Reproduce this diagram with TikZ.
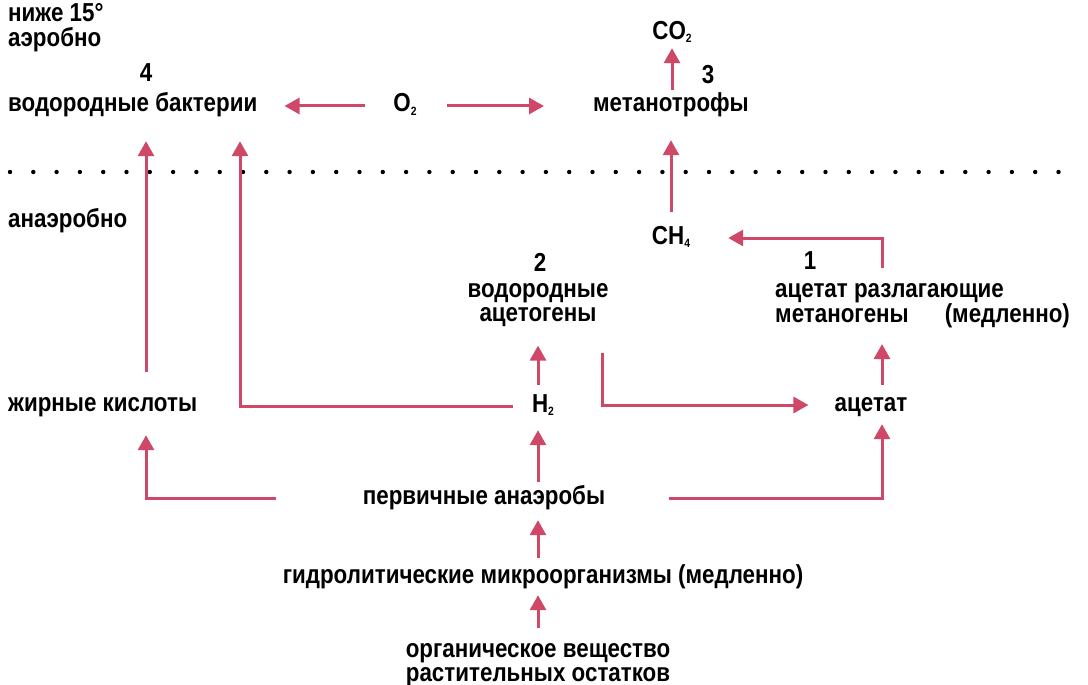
\documentclass[tikz,border=0pt]{standalone}
\usepackage{fontspec}
\setmainfont{Liberation Sans}[FakeStretch=0.86]
\usetikzlibrary{arrows.meta,calc}
\definecolor{arrcol}{RGB}{208,72,104}
\newcommand\lowidx[1]{\raisebox{-3pt}{\fontsize{12}{12}\selectfont #1}}
\begin{document}
\begin{tikzpicture}[x=1pt,y=-1pt,
  lbl/.style={inner sep=0pt, font=\fontsize{26}{24}\selectfont\bfseries, text height=17pt, text depth=5pt},
  lblm/.style={inner sep=0pt, font=\fontsize{26}{24}\selectfont\bfseries},
  arr/.style={draw=arrcol, line width=3pt, -{Triangle[length=15pt,width=16pt]}}]
\useasboundingbox (0,0) rectangle (1088,685);
% aerobic zone
\node[lbl, anchor=base west] (nizhe) at (8,22) {ниже 15°};
\node[lbl, anchor=base west] (aer) at (8,47) {аэробно};
\node[lbl, anchor=base] (n4) at (146,82) {4};
\node[lbl, anchor=base west] (wb) at (8,112) {водородные бактерии};
\node[lbl, anchor=base] (o2) at (405,112) {O\lowidx{2}};
\node[lbl, anchor=base] (mt) at (671,112) {метанотрофы};
\node[lbl, anchor=base] (co2) at (672,40) {CO\lowidx{2}};
\node[lbl, anchor=base] (n3) at (708,84) {3};
% border line
\draw[line width=4.4pt, dash pattern=on 0pt off 23.3pt, line cap=round] (10,172) -- (1062,172);
% anaerobic zone
\node[lbl, anchor=base west] (anaer) at (8,227) {анаэробно};
\node[lbl, anchor=base] (ch4) at (671,244) {CH\lowidx{4}};
\node[lbl, anchor=base] (n1) at (810,269) {1};
\node[lblm, anchor=north west, align=left] (mg) at (775,283) {ацетат разлагающие\\метаногены\hspace{36pt}(медленно)};
\node[lbl, anchor=base] (n2) at (540,271) {2};
\node[lblm, anchor=north, align=center] (aceto) at (538,283) {водородные\\ацетогены};
\node[lbl, anchor=base west] (fa) at (8,411) {жирные кислоты};
\node[lbl, anchor=base] (h2) at (543,412) {H\lowidx{2}};
\node[lbl, anchor=base] (acet) at (871,411) {ацетат};
\node[lbl, anchor=base] (perv) at (484,504) {первичные анаэробы};
\node[lbl, anchor=base] (gidro) at (543,583) {гидролитические микроорганизмы (медленно)};
\node[lblm, anchor=north, align=center] (org) at (538,643) {органическое вещество\\растительных остатков};
% connectors
\draw[arr, shorten <=28pt, shorten >=27pt] (o2) -- (wb);
\draw[arr, shorten <=30pt, shorten >=49pt] (o2) -- (mt);
\draw[arr, shorten <=5pt, shorten >=3pt] (mt.north -| co2) -- (co2);
\draw[arr, shorten <=15pt, shorten >=23pt] (ch4.north) -- (ch4.north |- mt.south);
\draw[arr, shorten >=38pt] ($(acet.north |- mg.north)+(11,-15)$) |- (ch4.east);
\draw[arr, shorten <=10pt, shorten >=19pt] (aceto.south |- h2.north) -- (aceto.south);
\draw[arr, shorten >=26pt] ($(aceto.south east)+(-6,26)$) |- (acet.west);
\draw[arr, shorten <=9pt, shorten >=16pt] ($(acet.north)+(11,0)$) -- ($(acet.north |- mg.south)+(11,0)$);
\draw[arr, shorten <=19pt, shorten >=24pt] (h2.west) -| ($(wb.south west)+(232,0)$);
\draw[arr, shorten <=22pt, shorten >=24pt] ($(fa.north west)+(138,0)$) -- ($(wb.south west)+(138,0)$);
\draw[arr, shorten <=87pt, shorten >=19pt] (perv.west) -| ($(fa.south west)+(138,0)$);
\draw[arr, shorten <=5pt, shorten >=13pt] (perv.north -| aceto.south) -- (h2.south -| aceto.south);
\draw[arr, shorten <=64pt, shorten >=8pt] (perv.east) -| ($(acet.south)+(11,0)$);
\draw[arr, shorten <=8pt, shorten >=11pt] (gidro.north -| aceto.south) -- (perv.south -| aceto.south);
\draw[arr, shorten <=15pt, shorten >=7pt] (org.north) -- (gidro.south -| org.north);
\end{tikzpicture}
\end{document}
